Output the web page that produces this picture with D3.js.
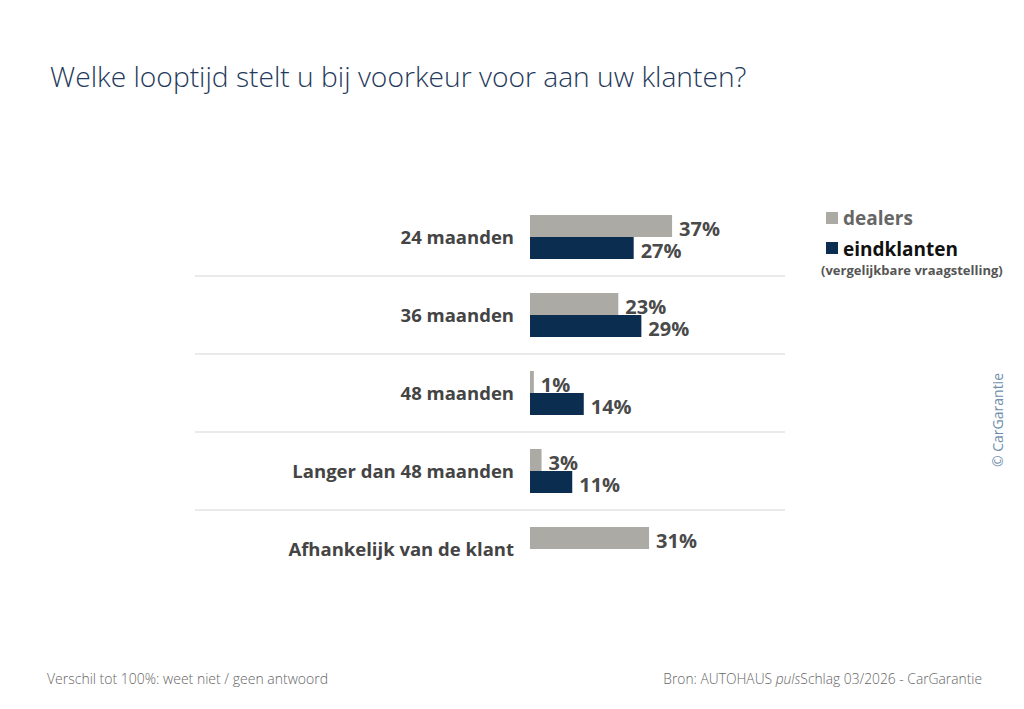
<!DOCTYPE html>
<html>
<head>
<meta charset="utf-8">
<script src="https://cdn.jsdelivr.net/npm/d3@7"></script>
<style>
  body { margin: 0; background: #fff; }
  text { font-family: "Open Sans", sans-serif; }
</style>
</head>
<body>
<div id="chart"></div>
<script>
const categories = ["24 maanden", "36 maanden", "48 maanden", "Langer dan 48 maanden", "Afhankelijk van de klant"];
const dealers = [37, 23, 1, 3, 31];
const eindklanten = [27, 29, 14, 11, null];
const seriesNames = ["dealers", "eindklanten"];

const W = 1024, H = 709;
const svg = d3.select("#chart").append("svg")
    .attr("width", W)
    .attr("height", H);

svg.append("text")
    .attr("x", 50).attr("y", 87)
    .attr("font-size", 28.2)
    .attr("font-weight", 300)
    .attr("fill", "#1f3a5c")
    .text("Welke looptijd stelt u bij voorkeur voor aan uw klanten?");

const x = d3.scaleLinear().domain([0, 100]).range([530, 914]);
const y = d3.scaleBand().domain(categories).range([198, 588]);
const sub = d3.scaleBand().domain(seriesNames).range([-22, 22]);

const colors = { dealers: "#abaaa4", eindklanten: "#0b2d50" };

// separators
svg.selectAll("line.sep")
    .data(categories.slice(1))
    .join("line")
    .attr("x1", 195).attr("x2", 785)
    .attr("y1", d => y(d)).attr("y2", d => y(d))
    .attr("stroke", "#d6d6d6")
    .attr("stroke-width", 1.2);

const rows = categories.map((c, i) => ({ cat: c, dealers: dealers[i], eindklanten: eindklanten[i] }));

const g = svg.selectAll("g.row")
    .data(rows)
    .join("g")
    .attr("transform", d => `translate(0,${y(d.cat) + y.bandwidth() / 2})`);

g.append("text")
    .attr("x", 514).attr("y", 7)
    .attr("text-anchor", "end")
    .attr("font-size", 18.5)
    .attr("font-weight", 700)
    .attr("fill", "#444")
    .text(d => d.cat);

const bars = g.selectAll("g.bar")
    .data(d => seriesNames.filter(s => d[s] != null).map(s => ({ s, v: d[s] })))
    .join("g");

bars.append("rect")
    .attr("x", x(0))
    .attr("y", d => sub(d.s))
    .attr("width", d => x(d.v) - x(0))
    .attr("height", sub.bandwidth())
    .attr("fill", d => colors[d.s]);

bars.append("text")
    .attr("x", d => x(d.v) + 7)
    .attr("y", d => sub(d.s) + sub.bandwidth() / 2 + 10)
    .attr("font-size", 20)
    .attr("font-weight", 700)
    .attr("fill", "#4a4a4a")
    .text(d => d.v + "%");

// legend
const leg = svg.append("g");
leg.append("rect").attr("x", 826).attr("y", 212).attr("width", 12).attr("height", 12).attr("fill", colors.dealers);
leg.append("text").attr("x", 843).attr("y", 225).attr("font-size", 19).attr("font-weight", 700)
    .attr("fill", "#666").text("dealers");
leg.append("rect").attr("x", 826).attr("y", 242).attr("width", 12).attr("height", 12).attr("fill", colors.eindklanten);
leg.append("text").attr("x", 843).attr("y", 256).attr("font-size", 19).attr("font-weight", 700)
    .attr("fill", "#111").text("eindklanten");
leg.append("text").attr("x", 821).attr("y", 275).attr("font-size", 13).attr("font-weight", 700)
    .attr("fill", "#555").text("(vergelijkbare vraagstelling)");

// copyright
svg.append("text")
    .attr("transform", "translate(1003,420) rotate(-90)")
    .attr("text-anchor", "middle")
    .attr("font-size", 14)
    .attr("fill", "#6f8fab")
    .text("© CarGarantie");

// footer
svg.append("text")
    .attr("x", 47).attr("y", 684)
    .attr("font-size", 14)
    .attr("font-weight", 300)
    .attr("fill", "#666")
    .text("Verschil tot 100%: weet niet / geen antwoord");

const src = svg.append("text")
    .attr("x", 982).attr("y", 684)
    .attr("text-anchor", "end")
    .attr("font-size", 13.8)
    .attr("font-weight", 300)
    .attr("fill", "#666");
src.append("tspan").text("Bron: AUTOHAUS ");
src.append("tspan").attr("font-style", "italic").text("puls");
src.append("tspan").text("Schlag 03/2026 - CarGarantie");
</script>
</body>
</html>
